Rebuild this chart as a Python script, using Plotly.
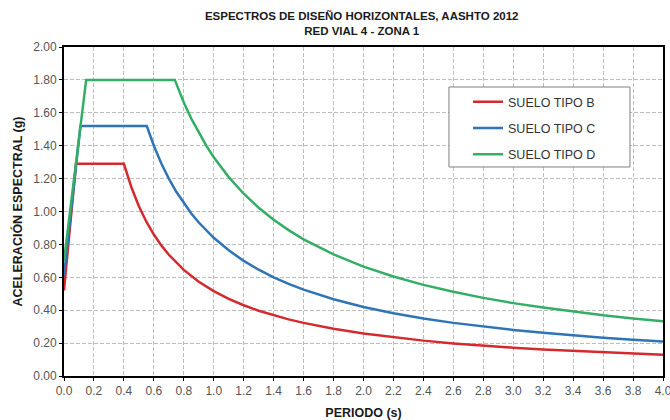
import plotly.graph_objects as go

# Period (s) and spectral acceleration (g)
t_b = [0.0, 0.08, 0.40, 0.45, 0.50, 0.55, 0.60, 0.65, 0.70, 0.75, 0.80, 0.90, 1.00, 1.10, 1.20, 1.30, 1.40,
       1.50, 1.60, 1.80, 2.00, 2.20, 2.40, 2.60, 2.80, 3.00, 3.20, 3.40, 3.60, 3.80, 4.00]
sa_b = [0.52, 1.29, 1.29, 1.147, 1.032, 0.938, 0.86, 0.794, 0.737, 0.688, 0.645, 0.573, 0.516, 0.469, 0.43,
        0.397, 0.369, 0.344, 0.323, 0.287, 0.258, 0.235, 0.215, 0.198, 0.184, 0.172, 0.161, 0.152, 0.143,
        0.136, 0.129]

t_c = [0.0, 0.11, 0.553, 0.60, 0.65, 0.70, 0.75, 0.80, 0.85, 0.90, 1.00, 1.10, 1.20, 1.30, 1.40, 1.50,
       1.60, 1.80, 2.00, 2.20, 2.40, 2.60, 2.80, 3.00, 3.20, 3.40, 3.60, 3.80, 4.00]
sa_c = [0.61, 1.52, 1.52, 1.40, 1.292, 1.20, 1.12, 1.05, 0.988, 0.933, 0.84, 0.764, 0.70, 0.646, 0.60, 0.56,
        0.525, 0.467, 0.42, 0.382, 0.35, 0.323, 0.30, 0.28, 0.2625, 0.247, 0.233, 0.221, 0.21]

t_d = [0.0, 0.148, 0.74, 0.80, 0.85, 0.90, 0.95, 1.00, 1.10, 1.20, 1.30, 1.40, 1.50, 1.60, 1.80, 2.00,
       2.20, 2.40, 2.60, 2.80, 3.00, 3.20, 3.40, 3.60, 3.80, 4.00]
sa_d = [0.70, 1.80, 1.80, 1.663, 1.565, 1.478, 1.40, 1.33, 1.209, 1.108, 1.023, 0.95, 0.887, 0.831, 0.739,
        0.665, 0.605, 0.554, 0.512, 0.475, 0.443, 0.416, 0.391, 0.369, 0.35, 0.333]

names = ["SUELO TIPO B", "SUELO TIPO C", "SUELO TIPO D"]
colors = ["#D42A2E", "#2F74B5", "#34AE65"]

fig = go.Figure()
for i, (t, sa) in enumerate([(t_b, sa_b), (t_c, sa_c), (t_d, sa_d)]):
    fig.add_trace(go.Scatter(x=t, y=sa, mode="lines", name=names[i], legendgroup=names[i],
                             line=dict(color=colors[i], width=2.5)))

regular = "Liberation Sans, Arial, sans-serif"

# legend frame
fig.add_shape(type="rect", xref="paper", yref="paper", x0=0.6427, x1=0.9449, y0=0.6353, y1=0.8784,
              line=dict(color="#7f7f7f", width=1), fillcolor="white", layer="above")

fig.update_layout(
    width=670, height=420,
    margin=dict(l=64, r=7, t=47, b=44),
    paper_bgcolor="white", plot_bgcolor="white",
    font=dict(family=regular, color="#333333"),
    title=dict(text="<b>ESPECTROS DE DISEÑO HORIZONTALES, AASHTO 2012<br>RED VIAL 4 - ZONA 1</b>",
               xref="paper", x=0.497, xanchor="center", y=0.952, yanchor="top",
               font=dict(family=regular, size=11.5, color="#1a1a1a")),
    showlegend=True,
    legend=dict(x=0.6745, y=0.878, xanchor="left", yanchor="top",
                bgcolor="rgba(0,0,0,0)", borderwidth=0,
                font=dict(family=regular, size=12.5, color="#333333"), tracegroupgap=7),
    xaxis=dict(range=[0, 4.0], dtick=0.2, tick0=0, tickformat=".1f", automargin=False,
               ticklabeloverflow="allow",
               showgrid=True, gridcolor="#bdbdbd", griddash="4px,2px", gridwidth=1,
               showline=True, linecolor="black", linewidth=2, mirror=True,
               ticks="outside", ticklen=3, tickcolor="black",
               tickfont=dict(size=12, color="#555555"), zeroline=False,
               title=dict(text="<b>PERIODO (s)</b>", font=dict(size=12.5, color="#1a1a1a"), standoff=11)),
    yaxis=dict(range=[0, 2.0], dtick=0.2, tick0=0, tickformat=".2f", automargin=False,
               showgrid=True, gridcolor="#bdbdbd", griddash="4px,2px", gridwidth=1,
               showline=True, linecolor="black", linewidth=2, mirror=True,
               ticks="outside", ticklen=3, tickcolor="black",
               tickfont=dict(size=12, color="#555555"), zeroline=False,
               title=dict(text="<b>ACELERACIÓN ESPECTRAL (g)</b>", font=dict(size=12.5, color="#1a1a1a"), standoff=8)),
)

fig.write_html("out.html", config={"displayModeBar": False},
               post_script="document.body.style.margin='0';document.body.style.overflow='hidden';")
